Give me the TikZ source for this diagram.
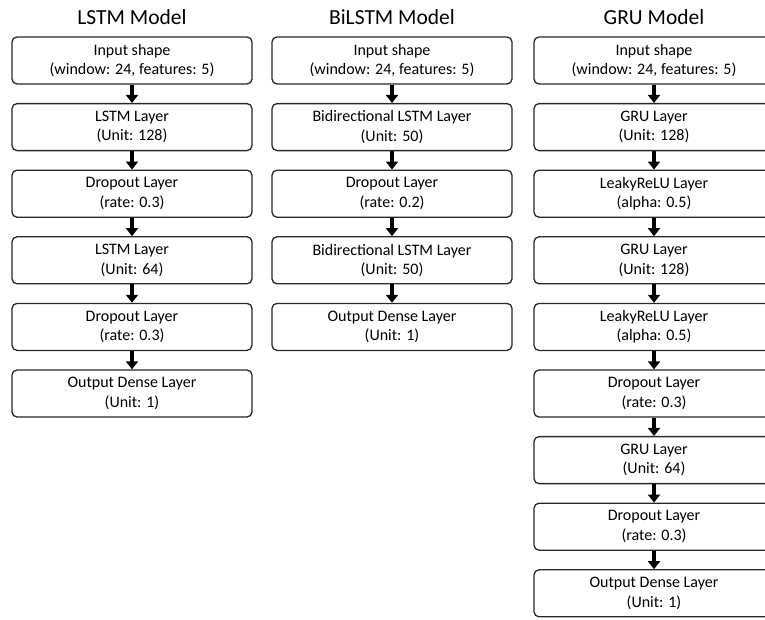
\documentclass[tikz,border=0pt]{standalone}
\usepackage{fontspec}
\setmainfont{Carlito}
\usetikzlibrary{arrows.meta}
\definecolor{lyedge}{RGB}{40,40,40}

\begin{document}
\begin{tikzpicture}[x=1pt,y=-1pt,
  layer/.style={draw=lyedge,line width=1.3pt,rounded corners=5pt,fill=white,
              minimum width=240pt,minimum height=47pt,
              align=center,font=\fontsize{16}{19.5}\selectfont,inner sep=2pt},
  title/.style={font=\fontsize{21.5}{24}\selectfont},
  arr/.style={-{Triangle[length=8pt,width=12pt]},line width=3.4pt,black}
]
  \clip (0,0) rectangle (765,619);
  % titles
  \node[title] (tl) at (132,17) {LSTM Model};
  \node[title] (tb) at (392,17) {BiLSTM Model};
  \node[title] (tg) at (654,17) {GRU Model};

  % LSTM
  \node[layer] (l1) at (132,60.5)  {Input shape\\(window: 24, features: 5)};
  \node[layer] (l2) at (132,127.1) {LSTM Layer\\(Unit: 128)};
  \node[layer] (l3) at (132,193.7) {Dropout Layer\\(rate: 0.3)};
  \node[layer] (l4) at (132,260.3) {LSTM Layer\\(Unit: 64)};
  \node[layer] (l5) at (132,326.9) {Dropout Layer\\(rate: 0.3)};
  \node[layer] (l6) at (132,393.5) {Output Dense Layer\\(Unit: 1)};
  \draw[arr] (l1) -- (l2);
  \draw[arr] (l2) -- (l3);
  \draw[arr] (l3) -- (l4);
  \draw[arr] (l4) -- (l5);
  \draw[arr] (l5) -- (l6);

  % BiLSTM
  \node[layer] (b1) at (392,60.5)  {Input shape\\(window: 24, features: 5)};
  \node[layer] (b2) at (392,127.1) {Bidirectional LSTM Layer\\(Unit: 50)};
  \node[layer] (b3) at (392,193.7) {Dropout Layer\\(rate: 0.2)};
  \node[layer] (b4) at (392,260.3) {Bidirectional LSTM Layer\\(Unit: 50)};
  \node[layer] (b5) at (392,326.9) {Output Dense Layer\\(Unit: 1)};
  \draw[arr] (b1) -- (b2);
  \draw[arr] (b2) -- (b3);
  \draw[arr] (b3) -- (b4);
  \draw[arr] (b4) -- (b5);

  % GRU
  \node[layer] (g1) at (654,60.5)  {Input shape\\(window: 24, features: 5)};
  \node[layer] (g2) at (654,127.1) {GRU Layer\\(Unit: 128)};
  \node[layer] (g3) at (654,193.7) {LeakyReLU Layer\\(alpha: 0.5)};
  \node[layer] (g4) at (654,260.3) {GRU Layer\\(Unit: 128)};
  \node[layer] (g5) at (654,326.9) {LeakyReLU Layer\\(alpha: 0.5)};
  \node[layer] (g6) at (654,393.5) {Dropout Layer\\(rate: 0.3)};
  \node[layer] (g7) at (654,460.1) {GRU Layer\\(Unit: 64)};
  \node[layer] (g8) at (654,526.7) {Dropout Layer\\(rate: 0.3)};
  \node[layer] (g9) at (654,593.3) {Output Dense Layer\\(Unit: 1)};
  \draw[arr] (g1) -- (g2);
  \draw[arr] (g2) -- (g3);
  \draw[arr] (g3) -- (g4);
  \draw[arr] (g4) -- (g5);
  \draw[arr] (g5) -- (g6);
  \draw[arr] (g6) -- (g7);
  \draw[arr] (g7) -- (g8);
  \draw[arr] (g8) -- (g9);
\end{tikzpicture}
\end{document}
